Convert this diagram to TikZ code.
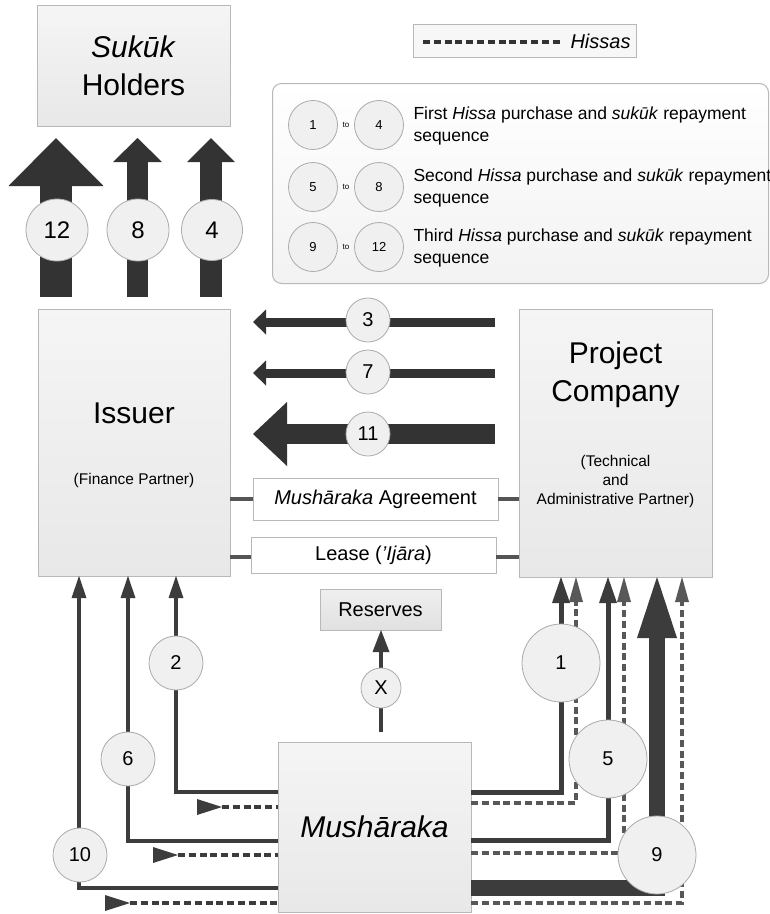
\documentclass[tikz,border=0pt]{standalone}
\usepackage{fontspec}
\setmainfont{Liberation Sans}
\usetikzlibrary{arrows.meta,calc}

\definecolor{boxline}{HTML}{B8B8B8}
\definecolor{arrowdark}{HTML}{333333}
\definecolor{flowdark}{HTML}{3C3C3C}
\definecolor{hissagray}{HTML}{585858}
\definecolor{tiegray}{HTML}{555555}
\definecolor{discfill}{HTML}{F0F0F0}
\definecolor{discline}{HTML}{ABABAB}

\newcommand\fsHuge{\fontsize{30}{38}\selectfont}
\newcommand\fsMid{\fontsize{20}{24}\selectfont}
\newcommand\fsNote{\fontsize{15.5}{19}\selectfont}
\newcommand\fsKey{\fontsize{17.5}{22}\selectfont}
\newcommand\fsBadge{\fontsize{24}{28}\selectfont}
\newcommand\fsSmallBadge{\fontsize{13}{15}\selectfont}
\newcommand\fsTo{\fontsize{8}{9}\selectfont}

\begin{document}
\begin{tikzpicture}[x=1pt,y=-1pt,
  party/.style={draw=boxline, line width=1pt, top color=black!4, bottom color=black!9,
    inner sep=0pt, outer sep=0pt, anchor=north west},
  paper/.style={draw=boxline, line width=1pt, fill=white, inner sep=0pt, outer sep=0pt},
  disc/.style={circle, draw=discline, fill=discfill, line width=0.8pt, inner sep=0pt,
    minimum size=#1, font=\fsMid},
  keydisc/.style={circle, draw=discline, fill=discfill, line width=0.8pt, inner sep=0pt,
    minimum size=49pt, font=\fsSmallBadge},
  fatflow/.style={draw=arrowdark, line width=#1},
  flow/.style={draw=flowdark, line width=#1},
  hissa/.style={draw=hissagray, line width=4pt, dash pattern=on 7pt off 3.8pt},
  tie/.style={draw=tiegray, line width=3.5pt}
]
\useasboundingbox[fill=white] (0,0) rectangle (770,914);

% ---------- parties ----------
\node[party, minimum width=193pt, minimum height=121pt] (holders) at (37,5) {};
\node[align=center, font=\fsHuge] at (133.5,66) {\textit{Sukūk}\\Holders};

\node[party, minimum width=192pt, minimum height=267pt] (issuer) at (38,309) {};
\node[font=\fsHuge] at (134,413) {Issuer};
\node[font=\fsNote] at (134,480) {(Finance Partner)};

\node[party, minimum width=193pt, minimum height=268pt] (project) at (519,309) {};
\node[align=center, font=\fsHuge] at (615.5,375) {Project\\Company};
\node[align=center, font=\fsNote] at (615.5,481) {(Technical\\and\\Administrative Partner)};

\node[party, minimum width=193pt, minimum height=170pt] (mush) at (278,742) {};
\node[font=\fsHuge\itshape] at (374.5,827) {Mushāraka};

\node[party, top color=black!6, bottom color=black!12, minimum width=121pt, minimum height=41pt,
  font=\fsMid] (reserves) at (320,589) {};
\node[font=\fsMid] at (380.5,609.5) {Reserves};

% ---------- agreements between the partners ----------
\node[paper, minimum width=245pt, minimum height=42pt, font=\fsMid] (agreement) at (375.5,499)
  {\textit{Mushāraka} Agreement};
\node[paper, minimum width=245pt, minimum height=36pt, font=\fsMid] (lease) at (373.5,555)
  {Lease (\textit{’Ijāra})};
\draw[tie] (issuer.east |- agreement.west) -- (agreement.west);
\draw[tie] (agreement.east) -- (project.west |- agreement.east);
\draw[tie] (issuer.east |- 0,557) -- (lease.west |- 0,557);
\draw[tie] (lease.east |- 0,557) -- (project.west |- 0,557);

% ---------- legend ----------
\node[draw=boxline, line width=1pt, fill=black!3, minimum width=223pt, minimum height=33pt,
  inner sep=0pt, anchor=north west] (hissakey) at (413,24) {};
\coordinate (dashA) at (423,42);
\coordinate (dashB) at (563,42);
\draw[draw=arrowdark, line width=3.5pt, dash pattern=on 7pt off 3.8pt] (dashA) -- (dashB);
\node[font=\fsMid\itshape, anchor=west] at (567,41) {Hissas};

\node[draw=boxline, line width=1pt, rounded corners=9pt, top color=white, bottom color=black!5,
  minimum width=496pt, minimum height=200pt, inner sep=0pt, anchor=north west] (keybox) at (272,83) {};
\foreach \y/\a/\b/\w in {125/1/4/First, 187/5/8/Second, 247/9/12/Third}{
  \node[keydisc] (ka\a) at (313,\y) {\a};
  \node[keydisc] (kb\b) at (379,\y) {\b};
  \node[font=\fsTo] at (346,\y) {to};
  \node[anchor=west, align=left, font=\fsKey] at (410,\y+1)
    {\w{} \textit{Hissa} purchase and \textit{sukūk} repayment\\sequence};
}

% ---------- sukuk repayments ----------
\draw[fatflow=32pt, -{Triangle[length=48pt,width=95pt,line width=0pt 0]},
  shorten <=12pt, shorten >=12pt] (issuer.north -| 56,0) -- (holders.south -| 56,0);
\draw[fatflow=21pt, -{Triangle[length=24pt,width=49pt,line width=0pt 0]},
  shorten <=12pt, shorten >=12pt] (issuer.north -| 137.5,0) -- (holders.south -| 137.5,0);
\draw[fatflow=22pt, -{Triangle[length=24pt,width=48pt,line width=0pt 0]},
  shorten <=12pt, shorten >=12pt] (issuer.north -| 211,0) -- (holders.south -| 211,0);

% ---------- Hissa payments from the project company ----------
\draw[fatflow=9pt, -{Triangle[length=13pt,width=25pt,line width=0pt 0]},
  shorten <=24pt, shorten >=23pt] (project.west |- 0,322) -- (issuer.east |- 0,322);
\draw[fatflow=9pt, -{Triangle[length=13pt,width=25pt,line width=0pt 0]},
  shorten <=24pt, shorten >=23pt] (project.west |- 0,373) -- (issuer.east |- 0,373);
\draw[fatflow=20pt, -{Triangle[length=34pt,width=64pt,line width=0pt 0]},
  shorten <=24pt, shorten >=23pt] (project.west |- 0,434) -- (issuer.east |- 0,434);

% ---------- reserves ----------
\draw[flow=3.5pt, -{Triangle[length=22pt,width=17pt,line width=0pt 0]}, shorten <=10pt]
  (mush.north -| 381,0) -- (reserves.south -| 381,0);

% ---------- flows to the issuer ----------
\draw[flow=4pt, -{Triangle[length=22pt,width=15pt,line width=0pt 0]}]
  (mush.west |- 0,792) -| (issuer.south -| 176,0);
\draw[flow=4pt, -{Triangle[length=22pt,width=15pt,line width=0pt 0]}]
  (mush.west |- 0,841) -| (issuer.south -| 128,0);
\draw[flow=4pt, -{Triangle[length=22pt,width=15pt,line width=0pt 0]}]
  (mush.west |- 0,888) -| (issuer.south -| 79,0);

\coordinate (h2) at (197,807);
\coordinate (h6) at (153,855);
\coordinate (h10) at (105,903);
\foreach \h in {h2,h6,h10}{
  \draw[hissa, draw=flowdark, {Triangle[reversed,length=25pt,width=16pt,line width=0pt 0]}-]
    (\h) -- (mush.west |- \h);
}

% ---------- flows to the project company ----------
\draw[hissa, -{Triangle[length=25pt,width=14pt,line width=0pt 0]}]
  (mush.east |- 0,803) -| (project.south -| 576,0);
\draw[hissa, -{Triangle[length=25pt,width=14pt,line width=0pt 0]}]
  (mush.east |- 0,853) -| (project.south -| 624,0);
\draw[hissa, -{Triangle[length=25pt,width=14pt,line width=0pt 0]}]
  (mush.east |- 0,903) -| (project.south -| 682,0);

\draw[flow=5pt, -{Triangle[length=26pt,width=18pt,line width=0pt 0]}]
  (mush.east |- 0,792) -| (project.south -| 561,0);
\draw[flow=5pt, -{Triangle[length=26pt,width=18pt,line width=0pt 0]}]
  (mush.east |- 0,840) -| (project.south -| 608,0);
\draw[flow=16pt, -{Triangle[length=61pt,width=40pt,line width=0pt 0]}]
  (mush.east |- 0,888) -| (project.south -| 657,0);

% ---------- step numbers ----------
\node[disc=62pt, font=\fsBadge] (n12) at (57,230) {12};
\node[disc=62pt, font=\fsBadge] (n8) at (138,230) {8};
\node[disc=61pt, font=\fsBadge] (n4) at (212,230) {4};

\node[disc=44pt] (n3) at (368,320) {3};
\node[disc=44pt] (n7) at (368,372) {7};
\node[disc=44pt] (n11) at (368,434) {11};

\node[disc=40pt] (nx) at (381,688) {X};

\node[disc=54pt] (n2) at (176,663) {2};
\node[disc=54pt] (n6) at (128,759) {6};
\node[disc=54pt] (n10) at (80,855) {10};

\node[disc=78pt] (n1) at (561,663) {1};
\node[disc=78pt] (n5) at (608,759) {5};
\node[disc=78pt] (n9) at (657,855) {9};
\end{tikzpicture}
\end{document}
